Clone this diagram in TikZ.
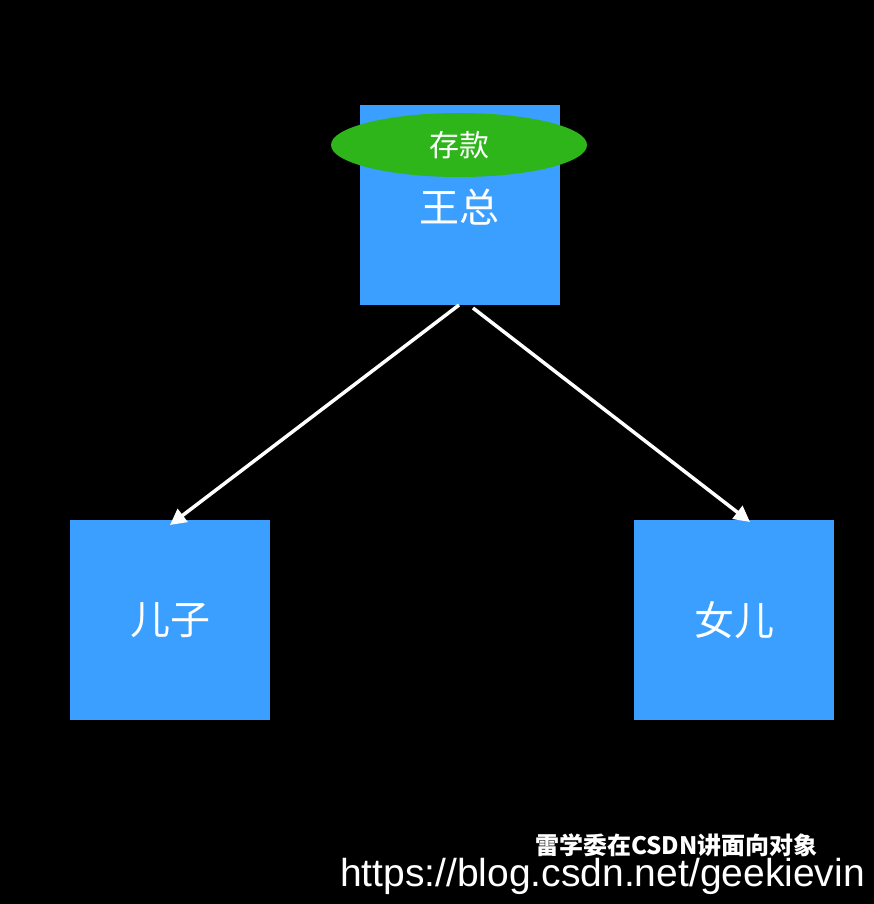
\documentclass[tikz,border=0pt]{standalone}
\usepackage{fontspec}
\setmainfont{Liberation Sans}
\newfontfamily\cjk{Noto Sans CJK SC}
\usetikzlibrary{shapes.geometric,arrows.meta}
\definecolor{boxblue}{HTML}{3A9FFF}
\definecolor{ovalgreen}{HTML}{2DB51A}
\tikzset{
  bx/.style={fill=boxblue,draw=none,minimum width=200pt,minimum height=200pt,inner sep=0pt,text=white,font=\cjk\fontsize{40pt}{40pt}\selectfont},
  arr/.style={draw=white,line width=3.5pt,-{Triangle[length=16pt,width=16pt]}}
}
\begin{document}
\begin{tikzpicture}[x=1pt,y=1pt]
\useasboundingbox[fill=black] (0,0) rectangle (874,-904);
\node[bx] (wang) at (460,-205) {};
\node[bx] (son) at (170,-620) {儿子};
\node[bx] (dau) at (734,-620) {女儿};
\node[text=white,font=\cjk\fontsize{40pt}{40pt}\selectfont] (wt) at (459,-207) {王总};
\node[ellipse,fill=ovalgreen,minimum width=256pt,minimum height=64pt,inner sep=0pt,text=white,font=\cjk\fontsize{30pt}{30pt}\selectfont] (dep) at (459,-145) {存款};
\coordinate (a1) at (459,-305);
\coordinate (a2) at (473,-308);
\coordinate (b1) at (170,-525);
\coordinate (b2) at (750,-522);
\draw[arr] (a1) -- (b1);
\draw[arr] (a2) -- (b2);
\node[text=white,font=\fontsize{39pt}{39pt}\selectfont,anchor=base east,inner sep=0pt] (url) at (865,-886) {https://blog.csdn.net/geekievin};
\node[text=white,font=\cjk\bfseries\fontsize{24pt}{24pt}\selectfont,anchor=base west,inner sep=0pt] (wm) at (535,-854) {雷学委在CSDN讲面向对象};
\end{tikzpicture}
\end{document}
